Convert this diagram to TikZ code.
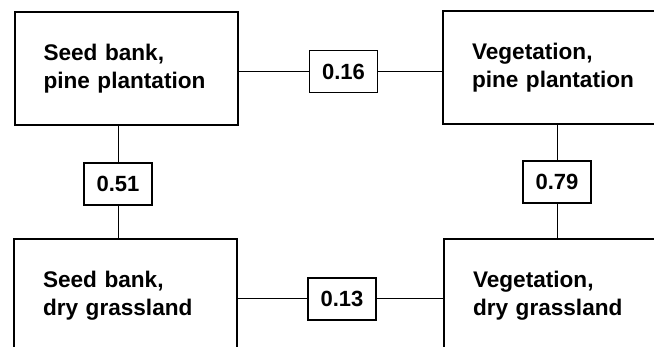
\documentclass[tikz,border=0pt]{standalone}
\usepackage{fontspec}
\setmainfont{Liberation Sans}
\usetikzlibrary{calc}
\usetikzlibrary{positioning}
\tikzset{habitat/.style={draw,line width=2pt,rectangle,align=left,
    text width=165pt,inner xsep=29pt,minimum height=112.5pt,
    font=\bfseries\fontsize{22.6}{28}\selectfont}}
\tikzset{corr/.style={draw,line width=1.2pt,rectangle,fill=white,
    minimum width=68pt,minimum height=42pt,inner sep=0pt,
    font=\bfseries\fontsize{22}{26}\selectfont}}

\begin{document}
\begin{tikzpicture}[x=1pt, y=-1pt, line width=1pt]
  \useasboundingbox (0,0) rectangle (654,347);
  \clip (0,0) rectangle (654,347);

  \node[habitat] (SeedPine) at (126,68.5) {Seed bank,\\pine plantation};
  \node[habitat] (VegPine)  at (554.5,67.5) {Vegetation,\\pine plantation};
  \node[habitat] (SeedDry)  at (125.5,295.5) {Seed bank,\\dry grassland};
  \node[habitat] (VegDry)   at (555.5,295.5) {Vegetation,\\dry grassland};

  \node[corr] (c16) at (343.5,71.5) {0.16};
  \node[corr] (c51) at (118,184) {0.51};
  \node[corr] (c79) at (557,182) {0.79};
  \node[corr] (c13) at (342,299) {0.13};

  \draw (SeedPine.east |- c16) -- (c16) -- (VegPine.west |- c16);
  \draw (SeedDry.east |- c13) -- (c13) -- (VegDry.west |- c13);
  \draw (SeedPine.south -| c51) -- (c51) -- (SeedDry.north -| c51);
  \draw (VegPine.south -| c79) -- (c79) -- (VegDry.north -| c79);
\end{tikzpicture}
\end{document}
